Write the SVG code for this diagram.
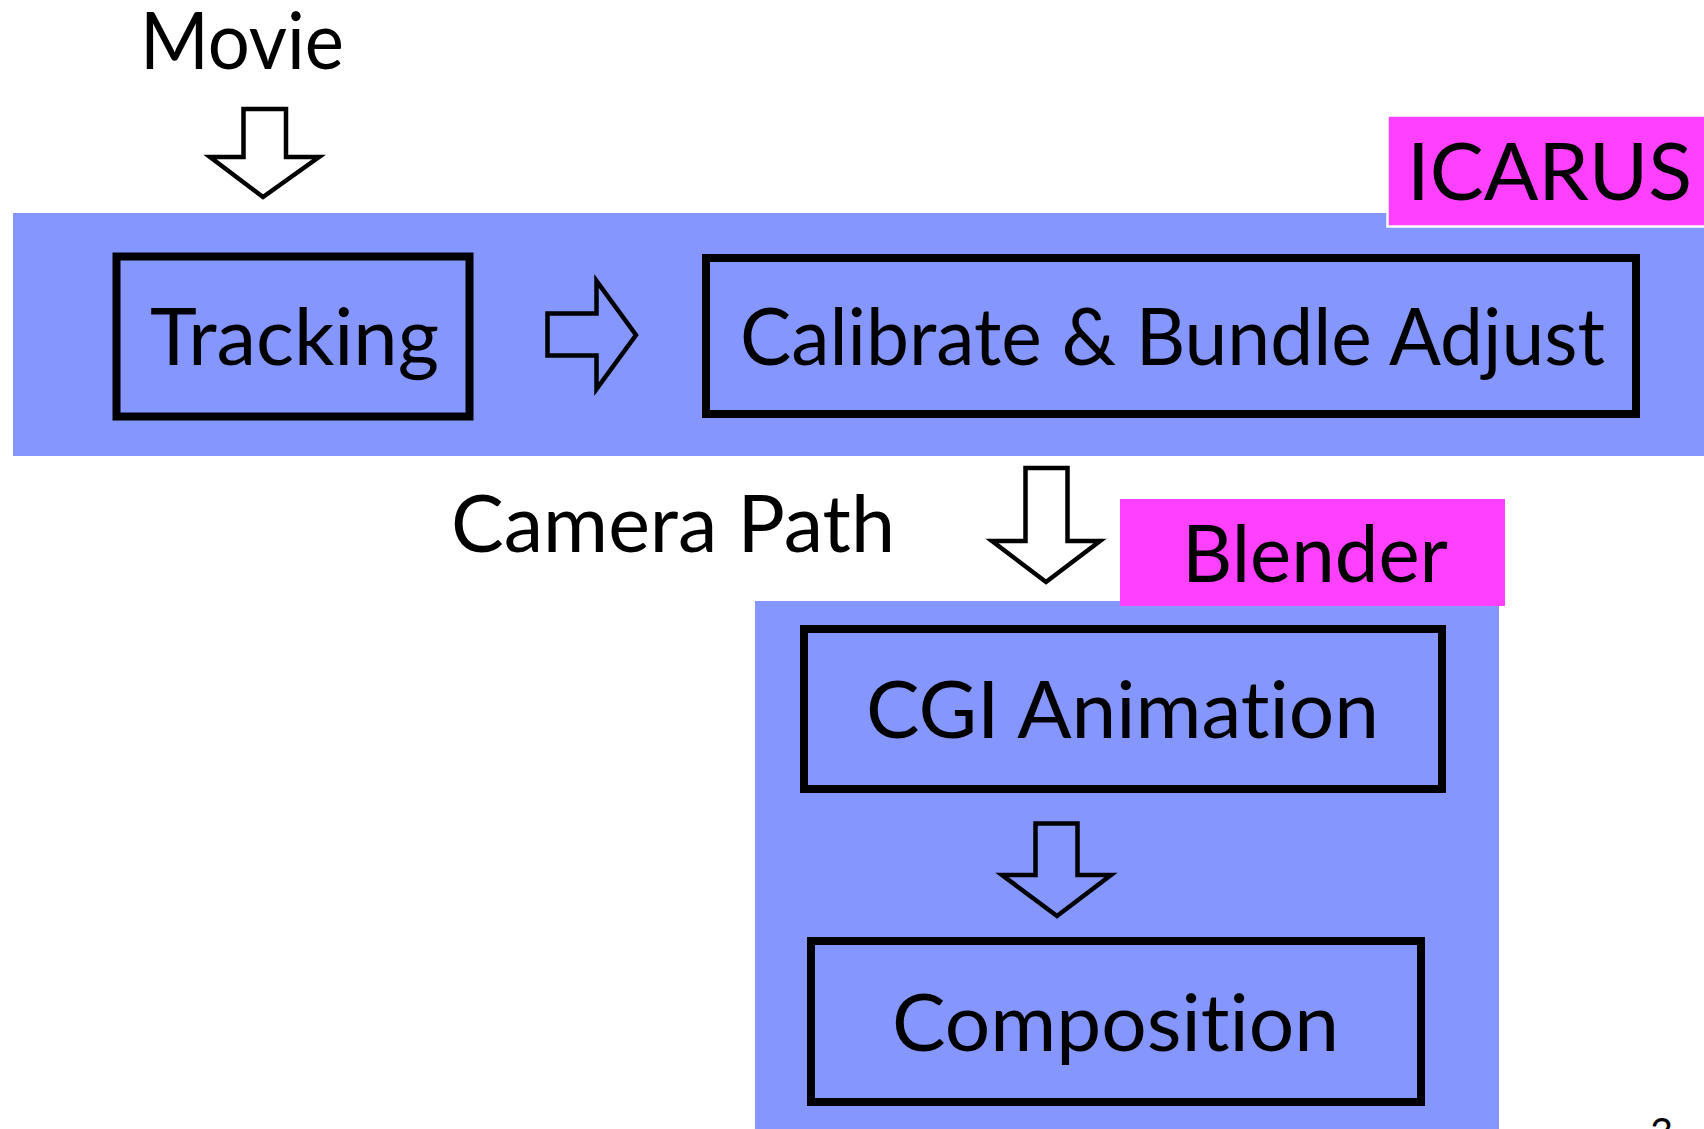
<svg xmlns="http://www.w3.org/2000/svg" width="1704" height="1129" viewBox="0 0 1704 1129">
  <style>
    .t { font-family: "Lato", "Liberation Sans", sans-serif; font-size: 80px; fill: #000; font-variant-ligatures: none; font-feature-settings: "liga" 0, "clig" 0; }
    .band { fill: #8597FE; }
    .tag { fill: #FF40FF; }
    .box { fill: #8597FE; stroke: #000; stroke-width: 8; }
    .arr { fill: none; stroke: #000; stroke-width: 4.5; stroke-linejoin: miter; }
    .arrb { fill: #fff; stroke: #000; stroke-width: 4.5; stroke-linejoin: miter; }
  </style>
  <rect width="1704" height="1129" fill="#fff"/>

  <g id="icarus-band">
    <rect class="band" x="13" y="213" width="1691" height="243"/>
  </g>
  <g id="icarus-label">
    <rect class="tag" x="1387.5" y="115.5" width="320" height="111" stroke="#fff" stroke-width="2.5"/>
    <text class="t" x="1407" y="200" textLength="285" lengthAdjust="spacingAndGlyphs">ICARUS</text>
  </g>

  <g id="blender-band">
    <rect class="band" x="755" y="601" width="744" height="528"/>
  </g>
  <g id="blender-label">
    <rect class="tag" x="1120" y="499" width="385" height="107"/>
    <text class="t" x="1182" y="582" textLength="266" lengthAdjust="spacingAndGlyphs">Blender</text>
  </g>

  <g id="movie">
    <text class="t" x="140" y="69" textLength="204" lengthAdjust="spacingAndGlyphs">Movie</text>
  </g>

  <g id="tracking">
    <rect class="box" x="116.5" y="256.5" width="353" height="160" stroke-width="7"/>
    <text class="t" x="150" y="365" textLength="289" lengthAdjust="spacingAndGlyphs">Tracking</text>
  </g>

  <g id="calibrate">
    <rect class="box" x="706" y="258" width="930" height="156"/>
    <text class="t" x="740" y="365" textLength="865" lengthAdjust="spacingAndGlyphs">Calibrate &amp; Bundle Adjust</text>
  </g>

  <g id="camera-path">
    <text class="t" x="451" y="552" textLength="444" lengthAdjust="spacingAndGlyphs">Camera Path</text>
  </g>

  <g id="cgi-animation">
    <rect class="box" x="804" y="629" width="638" height="160"/>
    <text class="t" x="866" y="738" textLength="513" lengthAdjust="spacingAndGlyphs">CGI Animation</text>
  </g>

  <g id="composition">
    <rect class="box" x="811" y="941" width="610" height="161"/>
    <text class="t" x="892" y="1051" textLength="447" lengthAdjust="spacingAndGlyphs">Composition</text>
  </g>

  <g id="page-number">
    <text class="t" x="1650" y="1147" style="font-size:40px">3</text>
  </g>

  <g id="connectors">
    <polygon class="arrb" points="243.5,109 286,109 286,157 319,157 263,197 210,157 243.5,157"/>
    <polygon class="arr" points="547.5,313.5 596.5,313.5 596.5,281 636,335 596.5,389 596.5,355.5 547.5,355.5"/>
    <polygon class="arrb" points="1025.5,468 1067.5,468 1067.5,541 1100,541 1046,582 992,541 1025.5,541"/>
    <polygon class="arr" points="1035.5,823.5 1077.5,823.5 1077.5,875 1111,875 1057,916 1002,875 1035.5,875"/>
  </g>
</svg>
